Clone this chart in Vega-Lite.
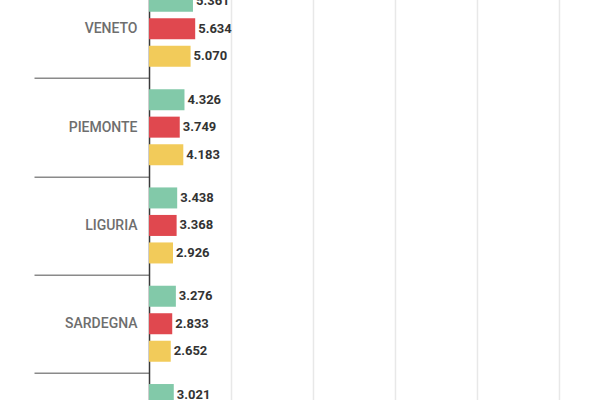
{
  "$schema": "https://vega.github.io/schema/vega-lite/v6.json",
  "autosize": "none",
  "padding": {"left": 149, "top": -20.3, "right": 0, "bottom": 0},
  "width": 451,
  "height": 491.5,
  "config": {
    "locale": {"number": {"decimal": ",", "thousands": ".", "grouping": [3], "currency": ["€", ""]}},
    "view": {"stroke": null},
    "axis": {"labelFont": "Roboto", "grid": false}
  },
  "data": {
    "values": [
      {"regione": "VENETO", "serie": "A", "valore": 5361},
      {"regione": "VENETO", "serie": "B", "valore": 5634},
      {"regione": "VENETO", "serie": "C", "valore": 5070},
      {"regione": "PIEMONTE", "serie": "A", "valore": 4326},
      {"regione": "PIEMONTE", "serie": "B", "valore": 3749},
      {"regione": "PIEMONTE", "serie": "C", "valore": 4183},
      {"regione": "LIGURIA", "serie": "A", "valore": 3438},
      {"regione": "LIGURIA", "serie": "B", "valore": 3368},
      {"regione": "LIGURIA", "serie": "C", "valore": 2926},
      {"regione": "SARDEGNA", "serie": "A", "valore": 3276},
      {"regione": "SARDEGNA", "serie": "B", "valore": 2833},
      {"regione": "SARDEGNA", "serie": "C", "valore": 2652},
      {"regione": "MARCHE", "serie": "A", "valore": 3021}
    ]
  },
  "encoding": {
    "y": {
      "field": "regione",
      "type": "nominal",
      "sort": null,
      "title": null,
      "scale": {"paddingInner": 0, "paddingOuter": 0},
      "axis": {
        "tickBand": "extent",
        "tickSize": 115,
        "tickColor": "#8a8a8a",
        "tickWidth": 1.5,
        "domainColor": "#3a3a3a",
        "domainWidth": 1.5,
        "labelPadding": -103,
        "labelFontSize": 14,
        "labelFontWeight": 500,
        "labelColor": "#6e6e6e"
      }
    },
    "yOffset": {
      "field": "serie",
      "type": "nominal",
      "scale": {"paddingInner": 0.236, "paddingOuter": 0.405}
    },
    "x": {
      "field": "valore",
      "type": "quantitative",
      "title": null,
      "scale": {"domain": [0, 55000], "nice": false},
      "axis": {
        "values": [10000, 20000, 30000, 40000, 50000],
        "grid": true,
        "gridColor": "#e8e8e8",
        "gridWidth": 1.5,
        "domain": false,
        "ticks": false,
        "labels": false
      }
    }
  },
  "layer": [
    {
      "mark": {"type": "bar"},
      "encoding": {
        "color": {
          "field": "serie",
          "type": "nominal",
          "legend": null,
          "scale": {"domain": ["A", "B", "C"], "range": ["#82c9a9", "#e0484f", "#f2cb5a"]}
        }
      }
    },
    {
      "mark": {"type": "text", "align": "left", "baseline": "middle", "dx": 3, "font": "Roboto", "fontSize": 13, "fontWeight": "bold", "color": "#333333"},
      "encoding": {
        "text": {"field": "valore", "type": "quantitative", "format": ",d"}
      }
    }
  ]
}
